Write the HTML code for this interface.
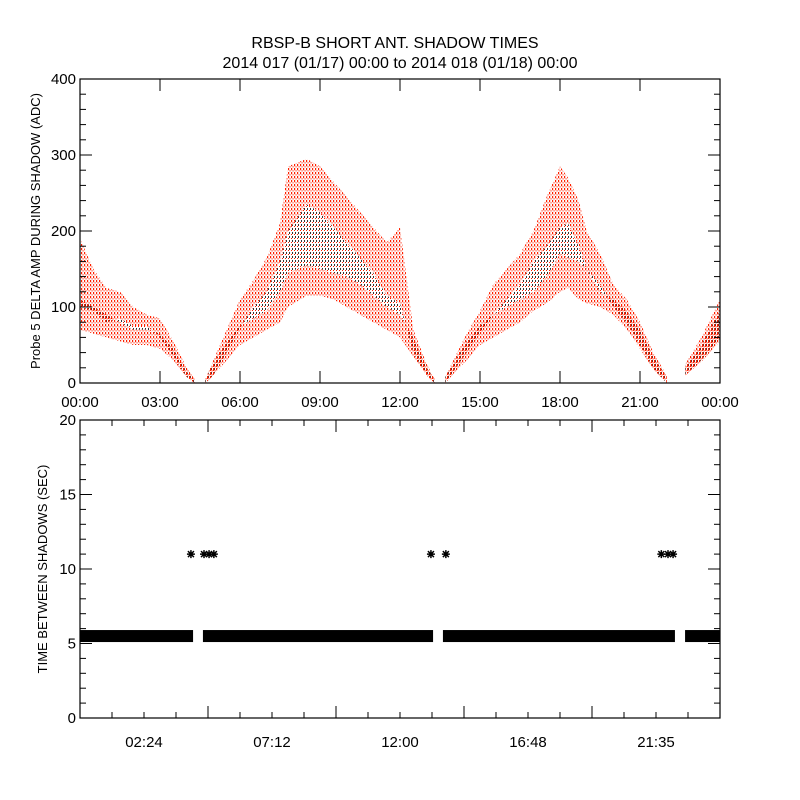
<!DOCTYPE html>
<html><head><meta charset="utf-8"><style>
body{margin:0;background:#fff;}
svg{display:block;font-family:"Liberation Sans",sans-serif;}
</style></head><body>
<svg id="chart" width="800" height="800" xmlns="http://www.w3.org/2000/svg">
<defs>
<pattern id="redp" width="3" height="4" patternUnits="userSpaceOnUse"><rect x="0" y="0" width="1.2" height="2.2" fill="#ff2000"/><rect x="1.6" y="2.2" width="0.9" height="1.3" fill="#ff2000"/></pattern>
<pattern id="blkp" width="3" height="4" patternUnits="userSpaceOnUse"><rect x="1" y="0" width="1" height="2" fill="#333"/><rect x="0" y="2" width="1" height="1" fill="#ff2000"/></pattern>
</defs>
<rect width="800" height="800" fill="#fff"/>
<text x="395" y="48" font-size="16" text-anchor="middle">RBSP-B SHORT ANT. SHADOW TIMES</text>
<text x="400" y="68" font-size="16" text-anchor="middle">2014 017 (01/17) 00:00 to 2014 018 (01/18) 00:00</text>
<g id="topPanel"></g><g id="botPanel"></g>
</svg>
<script>
// Top panel data: hours, upper-track range, lower-track range (ADC)
const segHours = [[0,0.5,1,1.5,2,2.5,3,3.5,4,4.3],[4.7,5,5.5,6,6.5,7,7.5,7.8,8.5,9,9.5,10,10.5,11,11.5,12,12.5,13,13.3],[13.7,14,14.5,15,15.5,16,16.5,17,17.5,18,18.3,18.7,19,19.5,20,20.5,21,21.5,22],[22.7,23.3,24]];
const upperLo = [[100,95,80,85,75,75,60,35,8,0],[0,10,40,72,100,120,160,200,235,225,205,185,165,145,115,105,40,10,0],[0,15,40,65,90,110,130,160,180,205,210,180,150,130,100,80,50,20,0],[10,30,60]];
const upperHi = [[190,150,125,120,100,90,85,55,20,5],[5,30,70,110,135,165,210,285,295,285,265,245,225,205,185,205,70,25,5],[8,30,65,95,130,150,170,200,245,285,270,240,200,170,130,110,80,40,10],[25,60,110]];
const lowerLo = [[70,65,60,55,50,50,45,30,8,0],[0,10,30,50,60,70,80,100,115,115,110,100,90,80,70,60,35,10,0],[0,12,30,50,60,70,80,95,105,120,125,110,105,100,90,70,45,18,0],[10,28,55]];
const lowerHi = [[110,100,90,80,70,70,65,45,15,5],[5,25,55,75,85,95,120,145,155,150,145,140,130,115,100,90,60,20,5],[8,25,55,75,90,100,110,120,140,170,165,160,150,120,110,95,70,35,8],[22,50,95]];
// Bottom panel data
const bandStart = [0,4.61,13.61,22.69];
const bandEnd = [4.24,13.24,22.31,24];
const bandValue = 5.5;
const longHours = [4.16,4.65,4.84,5.02,13.16,13.72,21.8,22.05,22.24];
const longValue = 11;
const topXTicks = ["00:00","03:00","06:00","09:00","12:00","15:00","18:00","21:00","00:00"];
const topYTicks = [0,100,200,300,400];
const botXTicks = ["02:24","07:12","12:00","16:48","21:35"];
const botYTicks = [0,5,10,15,20];

const NS="http://www.w3.org/2000/svg";
function mk(tag,attrs,parent){const e=document.createElementNS(NS,tag);for(const k in attrs)e.setAttribute(k,attrs[k]);parent.appendChild(e);return e;}
const L=80,R=720;
const x=h=>L+(R-L)*h/24;
const yT=v=>383-(383-79)*v/400;
const yB=v=>718-(718-420)*v/20;
const gTop=document.getElementById('topPanel'), gBot=document.getElementById('botPanel');

function area(hs,lo,hi,fn){let p=hs.map((h,i)=>x(h)+','+fn(hi[i]));for(let i=hs.length-1;i>=0;i--)p.push(x(hs[i])+','+fn(lo[i]));return p.join(' ');}
segHours.forEach((hs,s)=>{
  const g=mk('polygon',{points:area(hs,lowerHi[s],upperLo[s],yT),fill:'url(#blkp)'},gTop);
  
  
  const a=mk('polygon',{points:area(hs,upperLo[s],upperHi[s],yT),fill:'url(#redp)'},gTop);
  
  
  const b=mk('polygon',{points:area(hs,lowerLo[s],lowerHi[s],yT),fill:'url(#redp)'},gTop);
  
  
});
const tf=mk('rect',{x:L,y:79,width:R-L,height:304,fill:'none',stroke:'#000','stroke-width':1.2},gTop);


for(let v=0;v<=400;v+=20){const maj=v%100===0,len=maj?12:6;
  mk('line',{x1:L,x2:L+len,y1:yT(v),y2:yT(v),stroke:'#000'},gTop);
  mk('line',{x1:R,x2:R-len,y1:yT(v),y2:yT(v),stroke:'#000'},gTop);}
topYTicks.forEach(v=>{const t=mk('text',{x:L-4,y:yT(v)+5,'font-size':15,'text-anchor':'end'},gTop);t.textContent=v;
  
  });
topXTicks.forEach((s,i)=>{const h=i*3;
  mk('line',{x1:x(h),x2:x(h),y1:383,y2:371,stroke:'#000'},gTop);
  mk('line',{x1:x(h),x2:x(h),y1:79,y2:91,stroke:'#000'},gTop);
  const t=mk('text',{x:x(h),y:407,'font-size':15,'text-anchor':'middle'},gTop);t.textContent=s;
  
  });
const ty=mk('text',{transform:'translate(40,231) rotate(-90)','font-size':13,'text-anchor':'middle'},gTop);ty.textContent='Probe 5 DELTA AMP DURING SHADOW (ADC)';



bandStart.forEach((s,i)=>{const r=mk('rect',{x:x(s),y:yB(bandValue)-6,width:x(bandEnd[i])-x(s),height:12,fill:'#000'},gBot);
  
  });
longHours.forEach(h=>{
  const cx=x(h), cy=yB(longValue), r=4;
  const d=`M${cx-r},${cy}H${cx+r}M${cx},${cy-r}V${cy+r}M${cx-r*0.75},${cy-r*0.75}L${cx+r*0.75},${cy+r*0.75}M${cx-r*0.75},${cy+r*0.75}L${cx+r*0.75},${cy-r*0.75}`;
  const p=mk('path',{d:d,stroke:'#000','stroke-width':1.5,fill:'none'},gBot);
  
  });
const bf=mk('rect',{x:L,y:420,width:R-L,height:298,fill:'none',stroke:'#000','stroke-width':1.2},gBot);


for(let v=0;v<=20;v+=1){const maj=v%5===0,len=maj?12:6;
  mk('line',{x1:L,x2:L+len,y1:yB(v),y2:yB(v),stroke:'#000'},gBot);
  mk('line',{x1:R,x2:R-len,y1:yB(v),y2:yB(v),stroke:'#000'},gBot);}
botYTicks.forEach(v=>{const t=mk('text',{x:L-4,y:yB(v)+5,'font-size':15,'text-anchor':'end'},gBot);t.textContent=v;
  
  });
for(let i=1;i<20;i++){const h=i*1.2,len=(i%4===0)?12:6;
  mk('line',{x1:x(h),x2:x(h),y1:718,y2:718-len,stroke:'#000'},gBot);
  mk('line',{x1:x(h),x2:x(h),y1:420,y2:420+len,stroke:'#000'},gBot);}
botXTicks.forEach((s,i)=>{const h=(i*4+2)*1.2;
  const t=mk('text',{x:x(h),y:747,'font-size':15,'text-anchor':'middle'},gBot);t.textContent=s;
  
  });
const by=mk('text',{transform:'translate(47,569) rotate(-90)','font-size':13,'text-anchor':'middle'},gBot);by.textContent='TIME BETWEEN SHADOWS (SEC)';


</script>
</body></html>
